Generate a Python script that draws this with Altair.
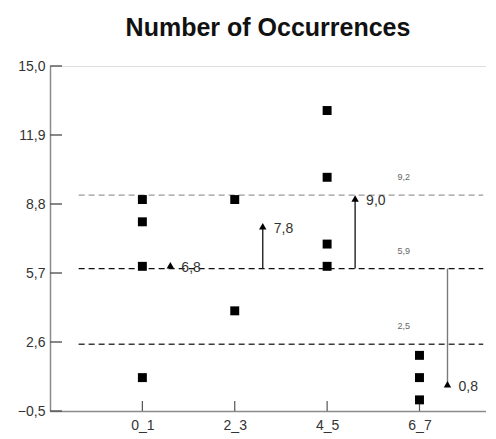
import json
import altair as alt
import pandas as pd

# ---- data ----
categories = ["0_1", "2_3", "4_5", "6_7"]
point_cat = [0, 0, 0, 0, 1, 1, 2, 2, 2, 2, 3, 3, 3]
point_val = [9, 8, 6, 1, 9, 4, 13, 10, 7, 6, 2, 1, 0]

ref_vals = [9.2, 5.9, 2.5]
ref_labels = ["9,2", "5,9", "2,5"]
ref_colors = ["#9a9a9a", "#111111", "#3a3a3a"]

arrow_cat = [0, 1, 2, 3]
arrow_base = [5.9, 5.9, 5.9, 5.9]
arrow_tip = [6.05, 7.8, 9.05, 0.7]
arrow_labels = ["6,8", "7,8", "9,0", "0,8"]
arrow_colors = ["#222222", "#222222", "#222222", "#7a7a7a"]

y_ticks = [-0.5, 2.6, 5.7, 8.8, 11.9, 15.0]
x_ticks = [0, 1, 2, 3]

W, H = 436, 345
FONT = "Liberation Sans"

points = pd.DataFrame({"x": point_cat, "y": point_val})
refs = pd.DataFrame({"y": ref_vals, "label": ref_labels, "color": ref_colors,
                     "x1": [-0.69] * 3, "x2": [3.69] * 3, "xl": [2.83] * 3})
arrows = pd.DataFrame({"x": arrow_cat, "y0": arrow_base, "y1": arrow_tip,
                       "label": arrow_labels, "color": arrow_colors})
yt = pd.DataFrame({"y": y_ticks})
xt = pd.DataFrame({"x": x_ticks})

xscale = alt.Scale(domain=[-1, 3.72], nice=False, zero=False)
yscale = alt.Scale(domain=[-0.5, 15], nice=False, zero=False)

label_expr_x = json.dumps(categories) + "[datum.value]"

xaxis = alt.Axis(values=x_ticks, labelExpr=label_expr_x, title=None, grid=False,
                 tickSize=0, labelPadding=7, labelFont=FONT, labelFontSize=14,
                 labelColor="#333333", domainColor="#8a8a8a", domainWidth=1.5)
yaxis = alt.Axis(values=y_ticks, labelExpr="replace(format(datum.value, '.1f'), '.', ',')",
                 title=None, grid=False, tickSize=0, labelPadding=5, labelFont=FONT,
                 labelFontSize=14, labelColor="#333333", domainColor="#8a8a8a",
                 domainWidth=1.5)

base_pts = alt.Chart(points).mark_square(size=80, color="black", opacity=1).encode(
    x=alt.X("x:Q", scale=xscale, axis=xaxis),
    y=alt.Y("y:Q", scale=yscale, axis=yaxis),
)

ref_rules = alt.Chart(refs).mark_rule(strokeDash=[6, 4], strokeWidth=1.3).encode(
    x=alt.X("x1:Q", scale=xscale), x2="x2:Q",
    y=alt.Y("y:Q", scale=yscale),
    color=alt.Color("color:N", scale=None),
)
ref_text = alt.Chart(refs).mark_text(font=FONT, fontSize=9, color="#666666", dy=-18).encode(
    x=alt.X("xl:Q", scale=xscale), y=alt.Y("y:Q", scale=yscale), text="label:N",
)

arrow_lines = alt.Chart(arrows).mark_rule(strokeWidth=1.4, xOffset=28).encode(
    x=alt.X("x:Q", scale=xscale),
    y=alt.Y("y0:Q", scale=yscale), y2="y1:Q",
    color=alt.Color("color:N", scale=None),
)
arrow_heads = alt.Chart(arrows).mark_point(shape="triangle-up", size=55, filled=True,
                                          color="black", opacity=1, xOffset=28).encode(
    x=alt.X("x:Q", scale=xscale), y=alt.Y("y1:Q", scale=yscale),
)
arrow_text = alt.Chart(arrows).mark_text(font=FONT, fontSize=14, color="#333333",
                                         align="left", dx=39, dy=3).encode(
    x=alt.X("x:Q", scale=xscale), y=alt.Y("y1:Q", scale=yscale), text="label:N",
)

ytick_marks = alt.Chart(yt).mark_rule(color="#555555", strokeWidth=1.4).encode(
    x=alt.value(0), x2=alt.value(12), y=alt.Y("y:Q", scale=yscale),
)
xtick_marks = alt.Chart(xt).mark_rule(color="#555555", strokeWidth=1.2).encode(
    y=alt.value(H), y2=alt.value(H - 10), x=alt.X("x:Q", scale=xscale),
)

chart = alt.layer(
    ref_rules, ref_text, arrow_lines, arrow_heads, arrow_text,
    ytick_marks, xtick_marks, base_pts,
).properties(
    width=W, height=H,
    title=alt.TitleParams("Number of Occurrences", font=FONT, fontSize=25,
                          fontWeight="bold", color="#111111", anchor="middle",
                          frame="group", offset=18),
    autosize=alt.AutoSizeParams(type="none"),
    padding={"left": 42, "top": 58, "right": 0, "bottom": 24},
).configure_view(stroke=None).configure(background="white")

chart.save("out.html", embed_options={"renderer": "svg", "actions": False})
